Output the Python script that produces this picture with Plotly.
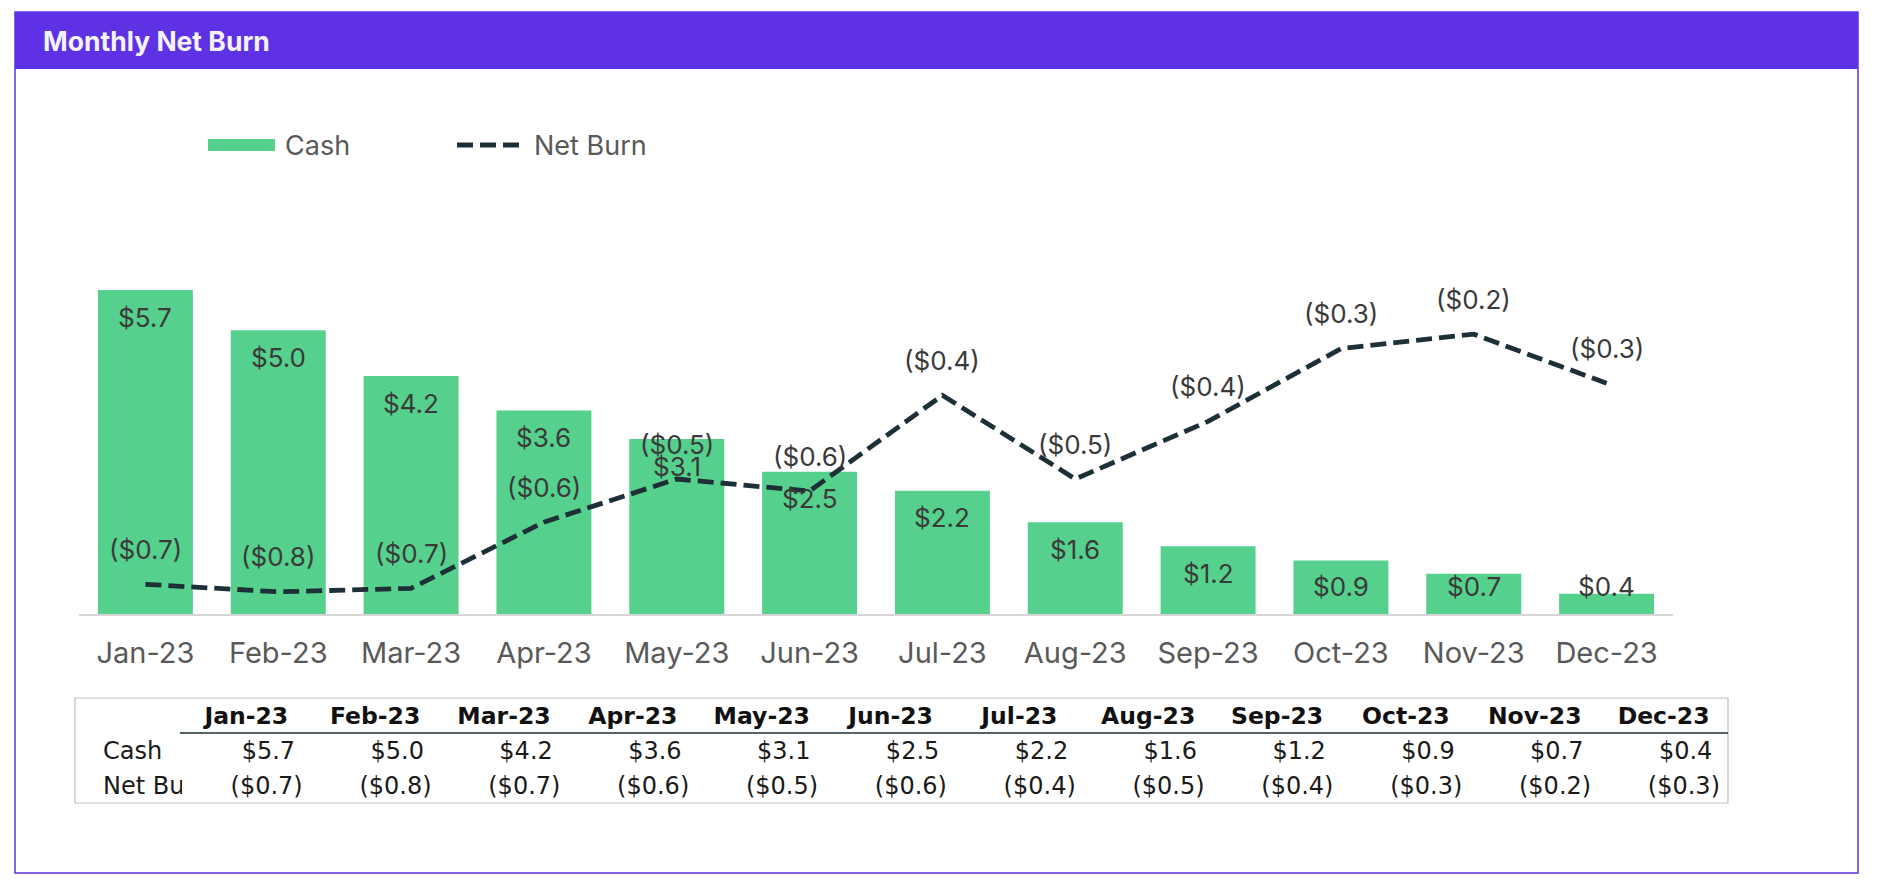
import plotly.graph_objects as go

# ---------------- data ----------------
months = ["Jan-23", "Feb-23", "Mar-23", "Apr-23", "May-23", "Jun-23",
          "Jul-23", "Aug-23", "Sep-23", "Oct-23", "Nov-23", "Dec-23"]
cash = [5.66, 4.96, 4.16, 3.56, 3.06, 2.49, 2.16, 1.61, 1.19, 0.94, 0.71, 0.36]
net_burn = [-0.740, -0.755, -0.748, -0.616, -0.530, -0.554,
            -0.363, -0.530, -0.415, -0.270, -0.241, -0.339]
series_names = ["Cash", "Net Burn"]
title_text = "Monthly Net Burn"

# ---------------- style ----------------
W, H = 1878, 896
GREEN = "#55D18D"
PURPLE = "#5E32E4"
LINE = "#1D2F37"
LABEL = "#3A3A3A"
TICK = "#595959"
FONT = "Inter"
TFONT = "DejaVu Sans"


def fx(p):
    return p / W


def fy(p):
    return 1 - p / H


def fmt_cash(v):
    return f"${v:.1f}"


def fmt_burn(v):
    return f"(${abs(v):.1f})" if v < 0 else f"${v:.1f}"


fig = go.Figure()

fig.add_trace(go.Bar(
    x=months, y=cash, name=series_names[0], yaxis="y",
    marker=dict(color=GREEN, line=dict(width=0)),
    hoverinfo="skip", showlegend=False,
))
fig.add_trace(go.Scatter(
    x=months, y=net_burn, name=series_names[1], yaxis="y2", mode="lines",
    line=dict(color=LINE, width=4.8, dash="16px,7px"),
    hoverinfo="skip", showlegend=False,
))

# data labels
for m, v in zip(months, cash):
    fig.add_annotation(x=m, y=max(v, 0.95), xref="x", yref="y",
                       text=fmt_cash(v), showarrow=False, yshift=-27,
                       xanchor="center", yanchor="middle",
                       font=dict(family=FONT, size=26, color=LABEL))
for m, v in zip(months, net_burn):
    fig.add_annotation(x=m, y=v, xref="x", yref="y2",
                       text=fmt_burn(v), showarrow=False, yshift=35,
                       xanchor="center", yanchor="middle",
                       font=dict(family=FONT, size=26, color=LABEL))

# data table (row labels use no-break spaces so the narrow column clips them)
row_labels = [s.replace(" ", "\u00a0") for s in series_names]
cell_cols = [row_labels] + [
    [fmt_cash(c) + "\u2008", fmt_burn(b)] for c, b in zip(cash, net_burn)
]
fig.add_trace(go.Table(
    domain=dict(x=[fx(95), fx(1728)], y=[fy(803), fy(698)]),
    columnwidth=[87] + [129] * 12,
    header=dict(values=[""] + months,
                align=["left"] + ["center"] * 12, height=35,
                fill_color="rgba(0,0,0,0)", line=dict(color="rgba(0,0,0,0)", width=0),
                font=dict(family=TFONT, size=23.5, color="#111111", weight="bold")),
    cells=dict(values=cell_cols,
               align=["left"] + ["right"] * 12, height=35,
               fill_color="rgba(0,0,0,0)", line=dict(color="rgba(0,0,0,0)", width=0),
               font=dict(family=TFONT, size=24, color="#1a1a1a")),
))

shapes = [
    # card border
    dict(type="rect", xref="paper", yref="paper", x0=fx(15), x1=fx(1858),
         y0=fy(873), y1=fy(12), line=dict(color=PURPLE, width=1.5), layer="below"),
    # header band
    dict(type="rect", xref="paper", yref="paper", x0=fx(15), x1=fx(1858),
         y0=fy(69), y1=fy(12), line=dict(width=0), fillcolor=PURPLE, layer="below"),
    # table box
    dict(type="rect", xref="paper", yref="paper", x0=fx(75), x1=fx(1728),
         y0=fy(803), y1=fy(698), line=dict(color="#BFBFBF", width=1.2), layer="above"),
    # table header underline
    dict(type="line", xref="paper", yref="paper", x0=fx(180), x1=fx(1728),
         y0=fy(733), y1=fy(733), line=dict(color="#1F2F36", width=1.5), layer="above"),
    # legend keys
    dict(type="rect", xref="paper", yref="paper", x0=fx(208), x1=fx(275),
         y0=fy(151), y1=fy(139), line=dict(width=0), fillcolor=GREEN),
    dict(type="line", xref="paper", yref="paper", x0=fx(457), x1=fx(519),
         y0=fy(145), y1=fy(145), line=dict(color=LINE, width=4.8, dash="16px,7px")),
]

annotations_extra = [
    dict(text=title_text, x=fx(41), y=fy(40.5), xref="paper", yref="paper",
         xanchor="left", yanchor="middle", showarrow=False,
         font=dict(family=FONT, size=26.5, color="#F4F2FB", weight="bold")),
    dict(text=series_names[0], x=fx(283), y=fy(145), xref="paper", yref="paper",
         xanchor="left", yanchor="middle", showarrow=False,
         font=dict(family=FONT, size=27, color=TICK)),
    dict(text=series_names[1], x=fx(532), y=fy(145), xref="paper", yref="paper",
         xanchor="left", yanchor="middle", showarrow=False,
         font=dict(family=FONT, size=27, color=TICK)),
]
for a in annotations_extra:
    fig.add_annotation(**a)

fig.update_layout(
    width=W, height=H,
    margin=dict(l=0, r=0, t=0, b=0),
    paper_bgcolor="white", plot_bgcolor="rgba(0,0,0,0)",
    bargap=0.285,
    showlegend=False,
    shapes=shapes,
    xaxis=dict(domain=[fx(79), fx(1673)], range=[-0.5, 11.5], type="category",
               showline=True, linecolor="#D6D6D6", linewidth=1.5,
               ticks="", showgrid=False, zeroline=False, fixedrange=True,
               tickfont=dict(family=FONT, size=29, color=TICK),
               ticklabelstandoff=12),
    yaxis=dict(domain=[fy(614.4), fy(213.3)], range=[0, 7], visible=False,
               showgrid=False, zeroline=False, fixedrange=True),
    yaxis2=dict(overlaying="y", anchor="x", range=[-0.8, 0], visible=False,
                showgrid=False, zeroline=False, fixedrange=True),
)

fig.write_html("out.html", config={"displayModeBar": False},
               post_script="document.body.style.margin='0';document.body.style.overflow='hidden';")
